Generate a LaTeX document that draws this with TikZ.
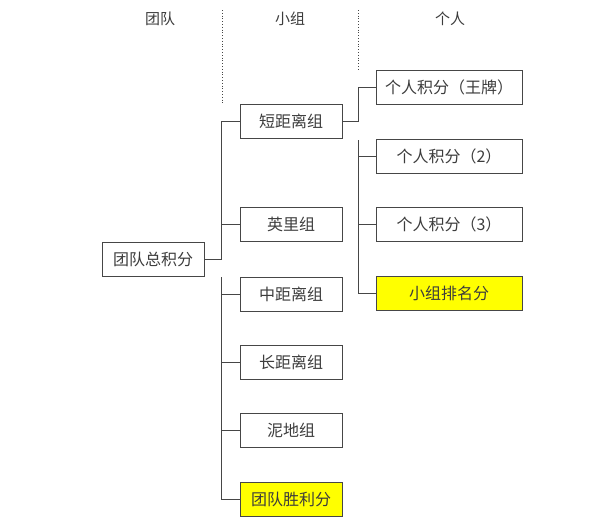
\documentclass[tikz,border=0pt]{standalone}
\usepackage{fontspec}
\setmainfont{Noto Sans CJK SC}
\definecolor{boxline}{RGB}{70,70,70}
\definecolor{txt}{RGB}{60,60,60}
\definecolor{hilite}{RGB}{255,255,0}
\begin{document}
\begin{tikzpicture}[x=1pt,y=-1pt,
	box/.style={draw=boxline, thick, minimum height=34pt, inner sep=0pt, text=txt, font=\fontsize{16}{18}\selectfont},
	grp/.style={box, minimum width=102pt},
	ind/.style={box, minimum width=146pt},
	head/.style={text=txt, font=\fontsize{15}{17}\selectfont},
	link/.style={boxline, thick}]
	\useasboundingbox (0,0) rectangle (600,530);
	\node[head] (h1) at (160,19) {团队};
	\node[head] (h2) at (290,19) {小组};
	\node[head] (h3) at (450,19) {个人};
	\draw[boxline, dotted, thick] (222,10) -- (222,105);
	\draw[boxline, dotted, thick] (358,10) -- (358,70);
	% groups
	\node[box, minimum width=102pt] (total) at (153,259) {团队总积分};
	\node[grp] (short) at (291,121) {短距离组};
	\node[grp] (mile) at (291,224) {英里组};
	\node[grp] (mid) at (291,294) {中距离组};
	\node[grp] (long) at (291,362) {长距离组};
	\node[grp] (mud) at (291,430) {泥地组};
	\node[grp, fill=hilite] (win) at (291,499) {团队胜利分};
	% individuals
	\node[ind] (ace) at (449,87) {个人积分（王牌）};
	\node[ind] (p2) at (449,156) {个人积分（2）};
	\node[ind] (p3) at (449,224) {个人积分（3）};
	\node[ind, fill=hilite] (rank) at (449,293) {小组排名分};
	% connectors
	\draw[link] (total.east) -| (221,121) -- (short.west);
	\draw[link] (221,224) -- (mile.west);
	\draw[link] (221,277) |- (win.west);
	\foreach \n in {mid,long,mud} \draw[link] (221,0 |- \n.west) -- (\n.west);
	\draw[link] (short.east) -| (358,87) -- (ace.west);
	\draw[link] (358,140) |- (rank.west);
	\foreach \n in {p2,p3} \draw[link] (358,0 |- \n.west) -- (\n.west);
\end{tikzpicture}
\end{document}
